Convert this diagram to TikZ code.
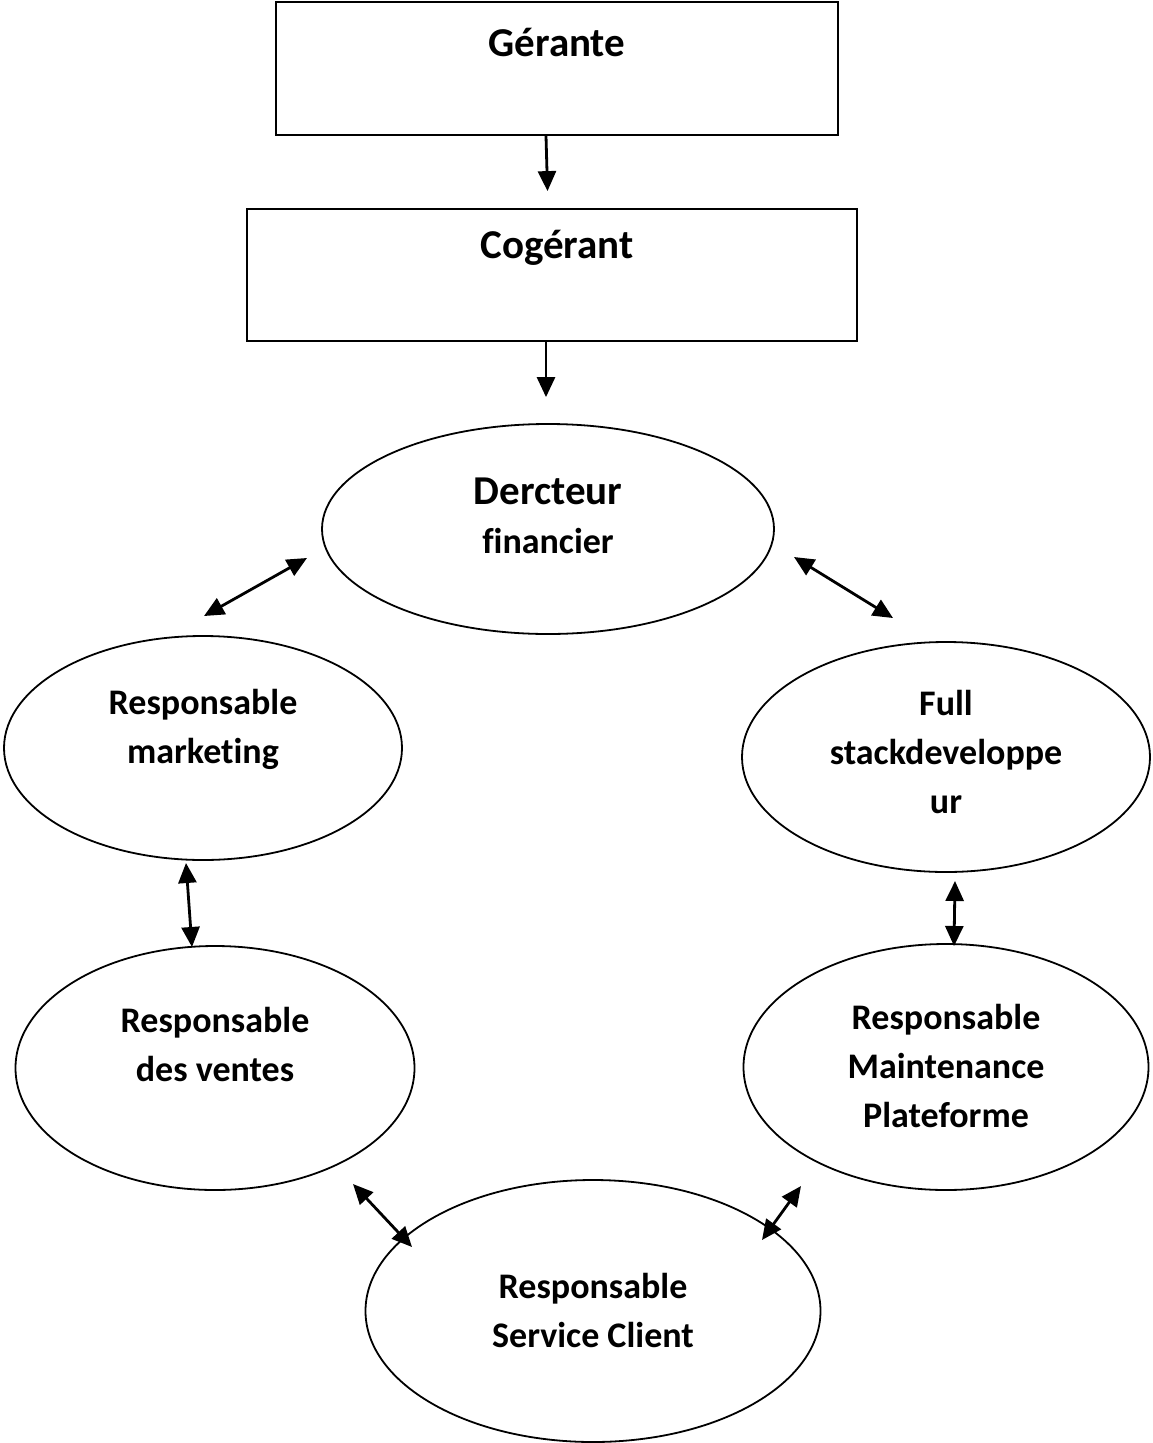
\documentclass[tikz,border=0pt]{standalone}
\usepackage{fontspec}
\setmainfont{Carlito}[Ligatures=NoCommon,RawFeature=-liga]
\usetikzlibrary{arrows.meta,shapes.geometric}
\begin{document}
\begin{tikzpicture}[x=1pt,y=-1pt,
  box/.style={draw,line width=1.8pt,rectangle,inner sep=0pt},
  oval/.style={draw,line width=1.8pt,ellipse,inner sep=0pt},
  title/.style={font=\bfseries\fontsize{41}{50}\selectfont,inner sep=0pt},
  txt/.style={font=\bfseries\fontsize{36}{49}\selectfont,align=center,inner sep=0pt},
  arr/.style={line width=2.8pt,-{Triangle[length=20pt,width=18pt]}},
  dbl/.style={line width=2.8pt,{Triangle[length=20pt,width=18pt]}-{Triangle[length=20pt,width=18pt]}}]
\useasboundingbox (0,0) rectangle (1153,1443);
% boxes
\node[box,minimum width=562pt,minimum height=133pt] (ger) at (557,68.5) {};
\node[title] (gert) at (557,42) {Gérante};
\node[box,minimum width=610pt,minimum height=132pt] (cog) at (552,275) {};
\node[title] (cogt) at (557,248) {Cogérant};
% ellipses
\node[oval,minimum width=452pt,minimum height=210pt] (fin) at (548,529) {};
\node[txt] (fint) at (548,516) {{\fontsize{41}{50}\selectfont Dercteur}\\f\kern0pt inancier};
\node[oval,minimum width=398pt,minimum height=224pt] (mkt) at (203,748) {};
\node[txt] (mktt) at (203,729) {Responsable\\market\kern0pt ing};
\node[oval,minimum width=408pt,minimum height=230pt] (dev) at (946,757) {};
\node[txt] (devt) at (946,752) {Full\\stackdeveloppe\\ur};
\node[oval,minimum width=399pt,minimum height=244pt] (ven) at (215,1068) {};
\node[txt] (vent) at (215,1044) {Responsable\\des ventes};
\node[oval,minimum width=405pt,minimum height=246pt] (mnt) at (946,1067) {};
\node[txt] (mntt) at (946,1066) {Responsable\\Maintenance\\Plateforme};
\node[oval,minimum width=455pt,minimum height=262pt] (cli) at (593,1311) {};
\node[txt] (clit) at (593,1310) {Responsable\\Service Client};
% arrows between boxes
\draw[arr,shorten >=17pt] ([xshift=-11pt]ger.south) -- ([xshift=-4pt]cog.north);
\draw[arr,shorten >=26pt] ([xshift=-6pt]cog.south) -- ([xshift=-2pt]fin.north);
% double arrows
\coordinate (a1) at (307,558); \coordinate (b1) at (204,616);
\coordinate (a2) at (794,557); \coordinate (b2) at (893,618);
\coordinate (a3) at (186,863); \coordinate (b3) at (192,947);
\coordinate (a4) at (955,881); \coordinate (b4) at (954,946);
\coordinate (a5) at (353,1184); \coordinate (b5) at (412,1247);
\coordinate (a6) at (801,1186); \coordinate (b6) at (762,1240);
\draw[dbl] (a1) -- (b1);
\draw[dbl] (a2) -- (b2);
\draw[dbl] (a3) -- (b3);
\draw[dbl] (a4) -- (b4);
\draw[dbl] (a5) -- (b5);
\draw[dbl] (a6) -- (b6);
\end{tikzpicture}
\end{document}
